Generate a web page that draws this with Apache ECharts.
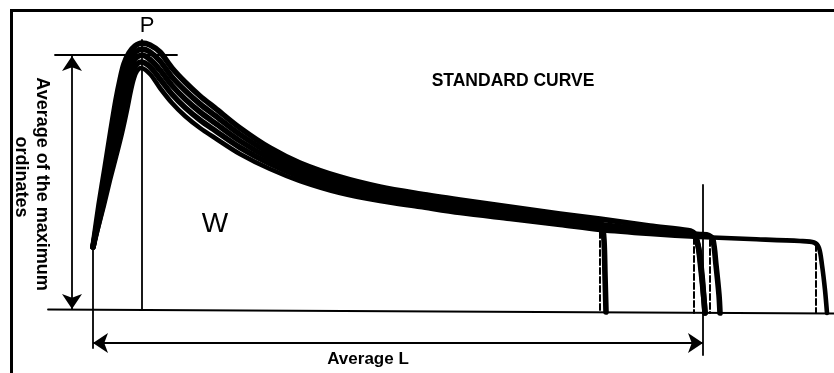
<!DOCTYPE html>
<html>
<head>
<meta charset="utf-8">
<script src="https://cdn.jsdelivr.net/npm/echarts@6/dist/echarts.min.js"></script>
<style>
  html, body { margin: 0; padding: 0; background: #fff; }
  #chart { width: 834px; height: 373px; }
</style>
</head>
<body>
<div id="chart"></div>
<script>
// Recorded curves, [time, ordinate]. Time unit: 1 = 1/61 of the average length L.
// Ordinate scale: the average of the maximum ordinates is 102.
const curve1 = [
  [0, 25.2], [0.6, 42.0], [1.2, 56.8], [1.8, 72.0], [2.3, 84.0], [2.7, 92.0], [3.1, 98.4],
  [3.6, 102.8], [4.2, 105.6], [4.9, 106.8], [5.7, 106.0], [6.7, 103.2], [7.9, 96.8],
  [9.2, 91.2], [10.7, 85.6], [12.2, 80.8], [14.7, 72.8], [17.7, 64.8], [20.7, 58.8],
  [24.7, 53.2], [28.7, 49.2], [32.7, 46.4], [36.7, 44.0], [41.7, 41.2], [46.7, 38.4],
  [50.7, 36.4], [55.7, 33.6], [59.5, 31.8], [60.1, 30.8], [60.5, 26.0], [60.8, 16.0],
  [61.1, 4.0], [61.2, -1.2]
];
const curve2 = [
  [0, 25.2], [0.73, 42.0], [1.4, 56.8], [2.1, 72.0], [2.63, 84.0], [3.04, 92.0], [3.4, 97.6],
  [3.8, 101.2], [4.3, 103.4], [4.9, 104.4], [5.7, 103.2], [6.7, 99.6], [7.9, 93.2],
  [9.2, 87.8], [10.7, 82.4], [12.2, 77.8], [14.7, 70.2], [17.7, 62.7], [20.7, 57.0],
  [24.7, 51.6], [28.7, 47.8], [32.7, 45.1], [36.7, 42.7], [41.7, 40.0], [46.7, 37.3],
  [49.7, 35.8], [50.5, 35.2], [50.9, 34.0], [51.1, 28.0], [51.2, 14.0], [51.3, -0.8]
];
const curve3 = [
  [0, 25.2], [0.85, 42.0], [1.6, 56.8], [2.4, 72.0], [2.95, 84.0], [3.38, 92.0], [3.7, 97.2],
  [4.1, 100.0], [4.5, 101.4], [4.9, 102.0], [5.7, 100.2], [6.7, 96.0], [7.9, 89.8],
  [9.2, 84.4], [10.7, 79.2], [12.2, 74.8], [14.7, 67.6], [17.7, 60.6], [20.7, 55.2],
  [24.7, 50.0], [28.7, 46.4], [32.7, 43.8], [36.7, 41.4], [41.7, 38.8], [46.7, 36.2],
  [50.7, 34.2], [55.7, 32.0], [60.7, 30.2], [61.6, 29.8], [62.0, 28.0], [62.3, 18.0],
  [62.6, 6.0], [62.7, -1.2]
];
const curve4 = [
  [0, 25.2], [0.98, 42.0], [1.8, 56.8], [2.7, 72.0], [3.28, 84.0], [3.7, 92.0], [4.0, 96.0],
  [4.4, 98.4], [4.8, 99.2], [5.7, 97.3], [6.7, 92.4], [7.9, 86.3], [9.2, 81.0],
  [10.7, 76.0], [12.2, 71.8], [14.7, 65.0], [17.7, 58.5], [20.7, 53.4], [24.7, 48.4],
  [28.7, 45.0], [32.7, 42.5], [36.7, 40.1], [41.7, 37.6], [46.7, 35.1], [50.7, 33.1],
  [55.7, 31.2], [59.7, 29.9], [60.2, 29.2], [60.6, 24.0], [60.9, 14.0], [61.1, 4.0],
  [61.2, -1.2]
];
const curve5 = [
  [0, 25.2], [0.5, 32.8], [1.1, 42.0], [1.7, 52.0], [2.3, 61.2], [2.9, 70.8], [3.4, 80.0],
  [3.8, 88.0], [4.1, 92.8], [4.4, 95.6], [4.8, 96.8], [5.7, 94.4], [6.7, 88.8], [7.9, 82.8],
  [9.2, 77.6], [10.7, 72.8], [12.2, 68.8], [14.7, 62.4], [17.7, 56.4], [20.7, 51.6],
  [24.7, 46.8], [28.7, 43.6], [32.7, 41.2], [36.7, 38.8], [41.7, 36.4], [46.7, 34.0],
  [50.7, 32.0], [55.7, 30.4], [60.7, 29.2], [65.7, 28.4], [70.7, 27.6], [72.1, 27.0],
  [72.6, 24.8], [72.9, 18.0], [73.2, 8.0], [73.4, -1.2]
];

// Ideal end of each record: [time, ordinate at the curve, ordinate at the base]
const dashedEnds = [[50.7, 31.2, -0.8], [60.1, 28.8, -1.2], [61.7, 28.0, -1.2], [72.3, 26.0, -1.2]];

// Reference lines
const baseline = [[-4.5, 0.2], [74.1, -1.4]];
const maxOrdinate = 102.0;          // average of the maximum ordinates
const maxOrdinateLine = [-3.8, 8.4]; // extent of the horizontal line at the maximum
const peakTime = 4.9;               // P
const peakLineTop = 108.0;
const ordinateArrowX = -2.1;
const ordinateArrowEnds = [101.6, 0.4];
const averageL = 61.0;
const lArrowY = -13.2;
const startExtension = [25.2, -15.2];  // line from curve start down past the base
const lMarkerExtent = [50.0, -18.0];   // vertical marker at the average length

const FONT = '"Liberation Sans", Arial, Helvetica, sans-serif';

function lineSeries(data, width, dash) {
  return {
    type: 'line',
    data: data,
    symbol: 'none',
    showSymbol: false,
    clip: false,
    silent: true,
    animation: false,
    lineStyle: { color: '#000', width: width, type: dash || 'solid', cap: 'round', join: 'round' }
  };
}

function curveSeries(data, width) {
  const s = lineSeries(data, width);
  s.smooth = 0.3;
  return s;
}

const series = [];
[curve1, curve2, curve3, curve4].forEach(c => series.push(curveSeries(c, 5.6)));
series.push(curveSeries(curve5, 4.6));

dashedEnds.forEach(d => {
  series.push(lineSeries([[d[0], d[1]], [d[0], d[2]]], 2, [6, 3]));
});

// straight construction lines
series.push(lineSeries([[peakTime, peakLineTop], [peakTime, 0]], 1.8));
series.push(lineSeries([[maxOrdinateLine[0], maxOrdinate], [maxOrdinateLine[1], maxOrdinate]], 1.8));
series.push(lineSeries([[0, startExtension[0]], [0, startExtension[1]]], 1.8));
series.push(lineSeries([[averageL, lMarkerExtent[0]], [averageL, lMarkerExtent[1]]], 1.8));

// base line carries the two dimension arrows
const base = lineSeries(baseline, 1.8);
base.markLine = {
  silent: true,
  animation: false,
  symbol: ['arrow', 'arrow'],
  symbolSize: 15,
  label: { show: false },
  lineStyle: { color: '#000', width: 1.8, type: 'solid' },
  data: [
    [{ coord: [ordinateArrowX, ordinateArrowEnds[0]] }, { coord: [ordinateArrowX, ordinateArrowEnds[1]] }],
    [{ coord: [0, lArrowY] }, { coord: [averageL, lArrowY] }]
  ]
};
series.push(base);

const chart = echarts.init(document.getElementById('chart'), null, { renderer: 'canvas' });
chart.setOption({
  animation: false,
  backgroundColor: '#fff',
  grid: { left: 0, right: 0, top: 0, bottom: 0 },
  xAxis: { type: 'value', min: -9.3, max: 74.1, show: false },
  yAxis: { type: 'value', min: -25.2, max: 124, show: false },
  series: series,
  graphic: [
    { type: 'polyline', silent: true,
      shape: { points: [[11.5, 373], [11.5, 10.5], [834, 10.5]] },
      style: { stroke: '#000', lineWidth: 3, fill: null } },
    { type: 'text', x: 147, y: 26, silent: true,
      style: { text: 'P', font: '22px ' + FONT, fill: '#000', align: 'center', verticalAlign: 'middle' } },
    { type: 'text', x: 215, y: 224, silent: true,
      style: { text: 'W', font: '28px ' + FONT, fill: '#000', align: 'center', verticalAlign: 'middle' } },
    { type: 'text', x: 513, y: 81, silent: true,
      style: { text: 'STANDARD CURVE', font: 'bold 17.5px ' + FONT, fill: '#000', align: 'center', verticalAlign: 'middle' } },
    { type: 'text', x: 368, y: 359, silent: true,
      style: { text: 'Average L', font: 'bold 17px ' + FONT, fill: '#000', align: 'center', verticalAlign: 'middle' } },
    { type: 'text', x: 42, y: 184, rotation: -Math.PI / 2, silent: true,
      style: { text: 'Average of the maximum', font: 'bold 18px ' + FONT, fill: '#000', align: 'center', verticalAlign: 'middle' } },
    { type: 'text', x: 21, y: 177, rotation: -Math.PI / 2, silent: true,
      style: { text: 'ordinates', font: 'bold 18px ' + FONT, fill: '#000', align: 'center', verticalAlign: 'middle' } }
  ]
});
</script>
</body>
</html>
